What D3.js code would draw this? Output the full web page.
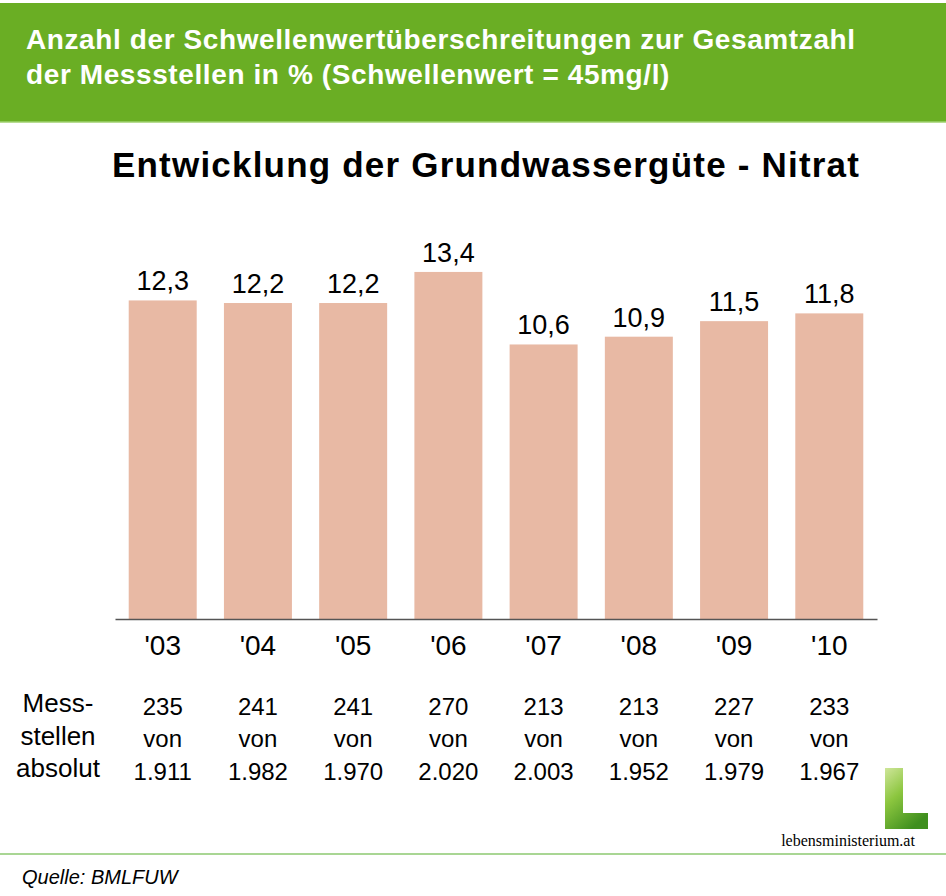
<!DOCTYPE html>
<html>
<head>
<meta charset="utf-8">
<script src="https://cdn.jsdelivr.net/npm/d3@7"></script>
<style>
body { margin: 0; background: #fff; }
</style>
</head>
<body>
<script>
// chart data
const years = ["'03", "'04", "'05", "'06", "'07", "'08", "'09", "'10"];
const percent = [12.3, 12.2, 12.2, 13.4, 10.6, 10.9, 11.5, 11.8];
const exceed = ["235", "241", "241", "270", "213", "213", "227", "233"];
const total = ["1.911", "1.982", "1.970", "2.020", "2.003", "1.952", "1.979", "1.967"];
const headerLines = ["Anzahl der Schwellenwertüberschreitungen zur Gesamtzahl", "der Messstellen in % (Schwellenwert = 45mg/l)"];
const rowLabel = ["Mess-", "stellen", "absolut"];

const width = 946, height = 896;
const sans = 'Arial, "Liberation Sans", sans-serif';

var svg = d3.select('body').append('svg')
	.attr('width', width)
	.attr('height', height)
	.attr('font-family', sans);

// green header
svg.append('rect')
	.attr('x', 0).attr('y', 3)
	.attr('width', width).attr('height', 119)
	.attr('fill', '#6aae24');
svg.append('line')
	.attr('x1', 0).attr('x2', width)
	.attr('y1', 122).attr('y2', 122)
	.attr('stroke', '#9fd06e').attr('stroke-width', 1.5);

svg.selectAll('.head')
	.data(headerLines)
	.enter()
	.append('text')
		.attr('x', 26)
		.attr('y', function(d, i) { return 49 + i * 35; })
		.attr('fill', '#fff')
		.attr('font-size', 28)
		.attr('font-weight', 'bold')
		.attr('letter-spacing', 0.6)
		.text(function(d) { return d; });

svg.append('text')
	.attr('x', 112).attr('y', 177)
	.attr('font-size', 35)
	.attr('font-weight', 'bold')
	.attr('letter-spacing', 1.2)
	.text('Entwicklung der Grundwassergüte - Nitrat');

// scales
var x = d3.scaleBand()
	.domain(years)
	.range([115, 877])
	.paddingInner(0.286)
	.paddingOuter(0.144);

var y = d3.scaleLinear()
	.domain([0, 15])
	.range([619, 619 - 15 * 25.9]);

svg.selectAll('.bar')
	.data(percent)
	.enter()
	.append('rect')
		.attr('x', function(d, i) { return x(years[i]); })
		.attr('y', function(d) { return y(d); })
		.attr('width', x.bandwidth())
		.attr('height', function(d) { return y(0) - y(d); })
		.attr('fill', '#e8b9a4');

svg.selectAll('.val')
	.data(percent)
	.enter()
	.append('text')
		.attr('x', function(d, i) { return x(years[i]) + x.bandwidth() / 2; })
		.attr('y', function(d) { return y(d) - 10; })
		.attr('text-anchor', 'middle')
		.attr('font-size', 27)
		.text(function(d) { return d3.format('.1f')(d).replace('.', ','); });

// baseline + year labels
var xAxis = svg.append('g')
	.attr('transform', 'translate(0,619)')
	.call(d3.axisBottom(x).tickSize(0).tickPadding(16));
xAxis.select('.domain').attr('stroke', '#555').attr('stroke-width', 1.5);
xAxis.selectAll('text')
	.attr('font-size', 28)
	.attr('font-family', sans)
	.attr('fill', '#000');

// absolute counts table
svg.selectAll('.rowlab')
	.data(rowLabel)
	.enter()
	.append('text')
		.attr('x', 58)
		.attr('y', function(d, i) { return 712 + i * 32.5; })
		.attr('text-anchor', 'middle')
		.attr('font-size', 26)
		.text(function(d) { return d; });

var cols = svg.selectAll('.col')
	.data(years)
	.enter()
	.append('g')
		.attr('transform', function(d) { return 'translate(' + (x(d) + x.bandwidth() / 2) + ',0)'; });
cols.append('text')
	.attr('y', 715).attr('text-anchor', 'middle').attr('font-size', 24)
	.text(function(d, i) { return exceed[i]; });
cols.append('text')
	.attr('y', 747).attr('text-anchor', 'middle').attr('font-size', 24)
	.text('von');
cols.append('text')
	.attr('y', 780).attr('text-anchor', 'middle').attr('font-size', 24)
	.text(function(d, i) { return total[i]; });

// logo
var grad = svg.append('defs').append('linearGradient')
	.attr('id', 'leaf').attr('x1', 0).attr('y1', 0).attr('x2', 0.6).attr('y2', 1);
grad.append('stop').attr('offset', '0%').attr('stop-color', '#cfe69a');
grad.append('stop').attr('offset', '45%').attr('stop-color', '#8cc63f');
grad.append('stop').attr('offset', '100%').attr('stop-color', '#3f8f1e');
svg.append('path')
	.attr('d', 'M885,768 L903,768 L903,813 L928,813 L928,829 L885,829 Z')
	.attr('fill', 'url(#leaf)');
svg.append('text')
	.attr('x', 848).attr('y', 846)
	.attr('text-anchor', 'middle')
	.attr('font-family', '"Liberation Serif", "DejaVu Serif", serif')
	.attr('font-size', 16)
	.text('lebensministerium.at');

// footer
svg.append('line')
	.attr('x1', 0).attr('x2', width)
	.attr('y1', 854).attr('y2', 854)
	.attr('stroke', '#8cc870').attr('stroke-width', 1.5);
svg.append('text')
	.attr('x', 22).attr('y', 884)
	.attr('font-style', 'italic')
	.attr('font-size', 20)
	.text('Quelle: BMLFUW');
</script>
</body>
</html>
